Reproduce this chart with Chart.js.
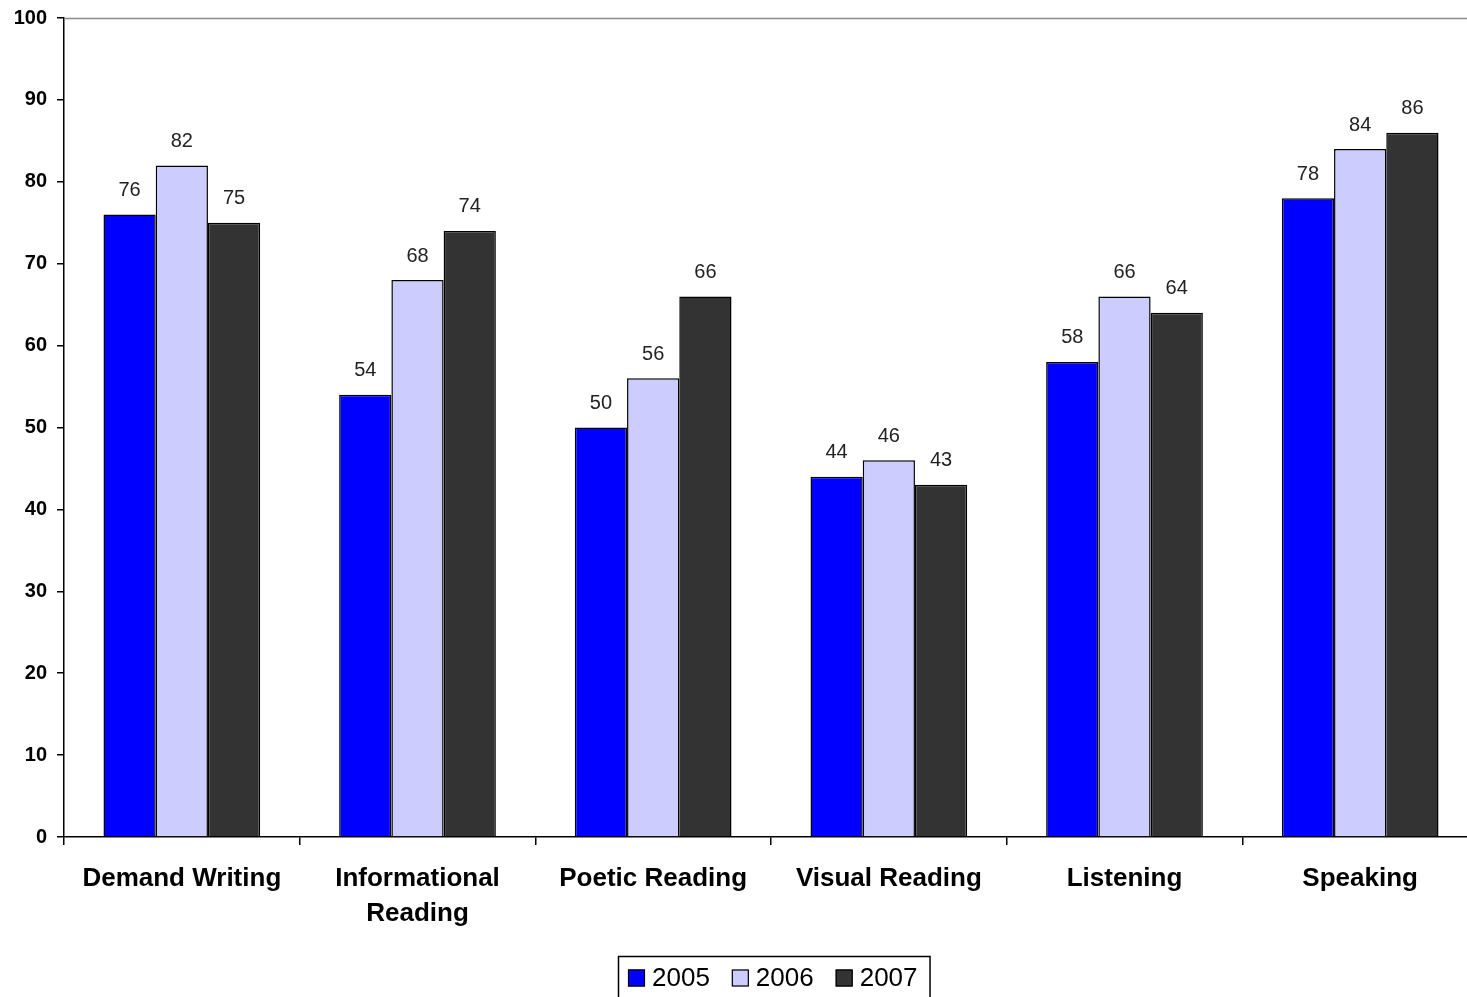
<!DOCTYPE html>
<html>
<head>
<meta charset="utf-8">
<script src="https://cdn.jsdelivr.net/npm/chart.js@4"></script>
<style>
  html, body { margin: 0; padding: 0; background: #fff; overflow: hidden; }
  #wrap { width: 1478px; height: 997px; }
</style>
</head>
<body>
<div id="wrap"><canvas id="c" width="1478" height="997"></canvas></div>
<script>
// Categories and yearly scores
const categories = ['Demand Writing', ['Informational', 'Reading'], 'Poetic Reading', 'Visual Reading', 'Listening', 'Speaking'];
const years = ['2005', '2006', '2007'];
const scores2005 = [76, 54, 50, 44, 58, 78];
const scores2006 = [82, 68, 56, 46, 66, 84];
const scores2007 = [75, 74, 66, 43, 64, 86];
const yTicks = [0, 10, 20, 30, 40, 50, 60, 70, 80, 90, 100];

const FONT = '"Liberation Sans", Arial, sans-serif';

// Value labels above each bar
const valueLabels = {
  id: 'valueLabels',
  afterDatasetsDraw(chart) {
    const ctx = chart.ctx;
    ctx.save();
    ctx.font = '20px ' + FONT;
    ctx.fillStyle = '#222';
    ctx.textAlign = 'center';
    ctx.textBaseline = 'middle';
    chart.data.datasets.forEach((ds, i) => {
      chart.getDatasetMeta(i).data.forEach((bar, j) => {
        ctx.fillText(String(ds.data[j]), bar.x, bar.y - 24);
      });
    });
    ctx.restore();
  }
};

// Top frame line
const frame = {
  id: 'frame',
  beforeDatasetsDraw(chart) {
    const a = chart.chartArea, ctx = chart.ctx;
    ctx.save();
    ctx.strokeStyle = '#8a8a8a';
    ctx.lineWidth = 1.5;
    ctx.beginPath();
    ctx.moveTo(a.left, a.top + 0.5);
    ctx.lineTo(a.right, a.top + 0.5);
    ctx.stroke();
    ctx.restore();
  }
};

// Boxed legend under the plot
const boxedLegend = {
  id: 'boxedLegend',
  afterDraw(chart) {
    const ctx = chart.ctx;
    const sw = 17, gap = 7, itemGap = 22, padL = 10, padR = 12;
    ctx.save();
    ctx.font = '26px ' + FONT;
    const items = chart.data.datasets.map(ds => ({
      text: ds.label, color: ds.backgroundColor, w: ctx.measureText(ds.label).width
    }));
    const inner = items.reduce((s, it) => s + sw + gap + it.w, 0) + itemGap * (items.length - 1);
    const total = padL + inner + padR;
    const left = 618;
    const top = 956, midY = 978;
    ctx.strokeStyle = '#000';
    ctx.lineWidth = 1.5;
    ctx.strokeRect(left + 0.5, top + 0.5, total, 60);
    let x = left + padL;
    ctx.textBaseline = 'middle';
    ctx.textAlign = 'left';
    items.forEach(it => {
      ctx.fillStyle = it.color;
      ctx.fillRect(x, midY - sw / 2, sw, sw);
      ctx.strokeStyle = '#000';
      ctx.lineWidth = 1.2;
      ctx.strokeRect(x + 0.5, midY - sw / 2 + 0.5, sw - 1, sw - 1);
      ctx.fillStyle = '#000';
      ctx.fillText(it.text, x + sw + gap, midY + 1);
      x += sw + gap + it.w + itemGap;
    });
    ctx.restore();
  }
};

new Chart(document.getElementById('c'), {
  type: 'bar',
  data: {
    labels: categories,
    datasets: [
      { label: years[0], data: scores2005, backgroundColor: '#0000ff' },
      { label: years[1], data: scores2006, backgroundColor: '#ccccff' },
      { label: years[2], data: scores2007, backgroundColor: '#333333' }
    ].map(d => Object.assign(d, { borderColor: '#000', borderWidth: 1.5, categoryPercentage: 0.665, barPercentage: 1.0 }))
  },
  options: {
    responsive: false,
    animation: false,
    layout: { padding: { top: 18, right: 0, left: 0, bottom: 0 } },
    plugins: {
      tooltip: { enabled: false },
      legend: { display: false }
    },
    scales: {
      y: {
        min: 0,
        max: 100,
        afterBuildTicks(scale) { scale.ticks = yTicks.map(v => ({ value: v })); },
        afterFit(scale) { scale.width = 64; scale.paddingTop = 0; scale.paddingBottom = 0; },
        border: { display: true, color: '#000', width: 1.5 },
        grid: { display: true, drawOnChartArea: false, drawTicks: true, tickLength: 7, color: '#000', lineWidth: 1.5 },
        ticks: { padding: 10, color: '#000', font: { family: FONT, size: 20, weight: 'bold' } }
      },
      x: {
        afterFit(scale) { scale.height = 997 - 837; },
        border: { display: true, color: '#000', width: 1.5 },
        grid: { display: true, offset: true, drawOnChartArea: false, drawTicks: true, tickLength: 8, color: '#000', lineWidth: 1.5 },
        ticks: { padding: 16, color: '#000', maxRotation: 0, autoSkip: false, font: { family: FONT, size: 26, weight: 'bold', lineHeight: 1.35 } }
      }
    }
  },
  plugins: [valueLabels, frame, boxedLegend]
});
</script>
</body>
</html>
